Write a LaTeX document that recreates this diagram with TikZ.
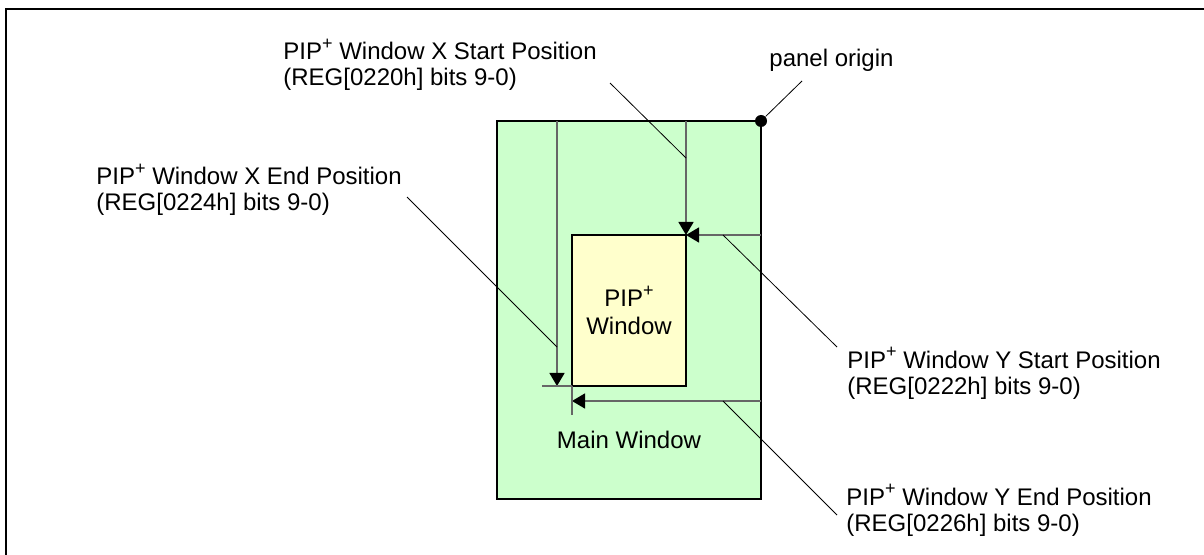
\documentclass[tikz,border=0pt]{standalone}
\usepackage{fontspec}
\setmainfont{Liberation Sans}
\usetikzlibrary{arrows.meta, positioning}
\definecolor{mainfill}{HTML}{CCFFCC}
\definecolor{pipfill}{HTML}{FFFFCC}
\newcommand{\plussup}{\raisebox{0.45em}{\fontsize{9}{9}\selectfont+}}

\begin{document}
\begin{tikzpicture}[x=0.5pt, y=-0.5pt,
  win/.style={draw=black, line width=1pt, inner sep=0pt, outer sep=0pt},
  lbl/.style={anchor=base west, align=left, inner sep=0pt, font=\fontsize{12}{13}\selectfont},
  arr/.style={-{Triangle[width=7.5pt,length=6.5pt,color=black]}, black!60, line width=0.7pt},
  tck/.style={black!60, line width=0.7pt},
  lead/.style={black, line width=0.4pt}]
  \useasboundingbox (0,0) rectangle (1204,555);
  \draw[line width=1pt] (6,600) -- (6,9) -- (1250,9);

  \node[win, fill=mainfill, minimum width=132pt, minimum height=189pt](main) at (629,310){};
  \node[win, fill=pipfill, minimum width=57pt, minimum height=75.5pt, align=center, font=\fontsize{12}{14}\selectfont](pip) at (629,310.5){PIP\plussup\\Window};
  \node[font=\fontsize{12}{13}\selectfont, anchor=base, inner sep=0pt](mainlbl) at (629,448){Main Window};
  \node[circle, fill=black, minimum size=6pt, inner sep=0pt](org) at (main.north east){};

  % two-line labels: base is the second line
  \node[lbl](xslbl) at (283,86){PIP\plussup{} Window X Start Position\\(REG[0220h] bits 9-0)};
  \node[lbl](xelbl) at (96,211){PIP\plussup{} Window X End Position\\(REG[0224h] bits 9-0)};
  \node[lbl](yslbl) at (847,394){PIP\plussup{} Window Y Start Position\\(REG[0222h] bits 9-0)};
  \node[lbl](yelbl) at (846,531){PIP\plussup{} Window Y End Position\\(REG[0226h] bits 9-0)};
  \node[lbl](orglbl) at (769,67){panel origin};

  \coordinate (xend) at (557,386);
  \coordinate (xtck) at (542,386);
  \coordinate (yend) at (572,401);
  \coordinate (ytck) at (572,415);

  \draw[arr] (main.north -| pip.east) -- (pip.north east);
  \draw[arr] (main.east |- pip.north) -- (pip.north east);
  \draw[arr] (xend |- main.north) -- (xend);
  \draw[tck] (xtck) -- (pip.south west);
  \draw[arr] (main.east |- yend) -- (yend);
  \draw[tck] (pip.south west) -- (ytck);

  \coordinate (xsa) at (610,83);  \coordinate (xsb) at (686,158);
  \coordinate (xea) at (407,197); \coordinate (xeb) at (557,347);
  \coordinate (ysa) at (837,347); \coordinate (ysb) at (723,235);
  \coordinate (yea) at (837,515); \coordinate (yeb) at (723,401);
  \coordinate (orga) at (802,81);
  \draw[lead] (xsa) -- (xsb);
  \draw[lead] (xea) -- (xeb);
  \draw[lead] (ysa) -- (ysb);
  \draw[lead] (yea) -- (yeb);
  \draw[lead] (org) -- (orga);
\end{tikzpicture}
\end{document}
